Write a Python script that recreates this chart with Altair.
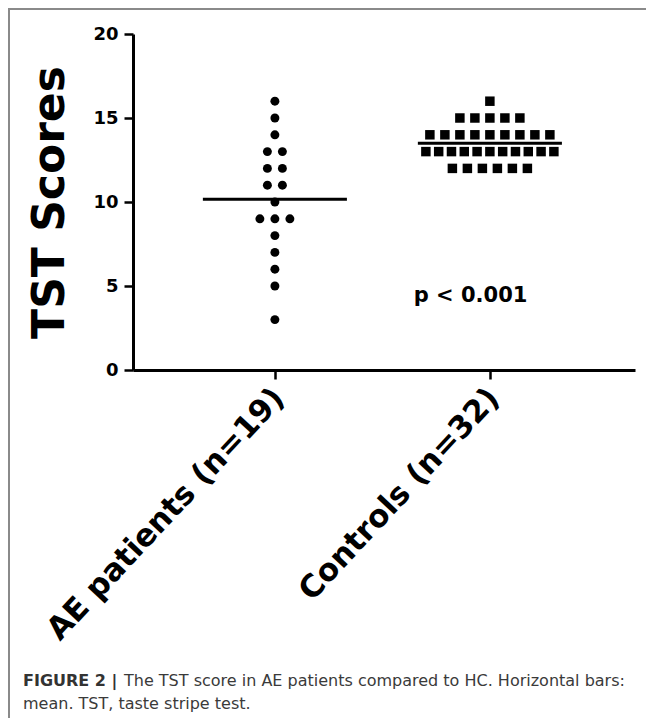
import altair as alt
import pandas as pd
from collections import Counter

# ---- data ----
groups = ["AE patients (n=19)", "Controls (n=32)"]
group_pos = [1, 2]
ae_scores = [16, 15, 14, 13, 13, 12, 12, 11, 11, 10, 9, 9, 9, 8, 7, 6, 5, 3]
control_scores = [16,
                  15, 15, 15, 15, 15,
                  14, 14, 14, 14, 14, 14, 14, 14, 14,
                  13, 13, 13, 13, 13, 13, 13, 13, 13, 13, 13,
                  12, 12, 12, 12, 12, 12]
y_ticks = [0, 5, 10, 15, 20]
p_label = ["p < 0.001"]
p_pos_x = [1.91]
p_pos_y = [4.4]
caption_bold = "FIGURE 2 |"
caption_line1 = "The TST score in AE patients compared to HC. Horizontal bars:"
caption_line2 = "mean. TST, taste stripe test."

# ---- layout helpers ----
W, H = 502, 336
X_DOMAIN = [0.34, 2.675]
PX_PER_UNIT = W / (X_DOMAIN[1] - X_DOMAIN[0])
FONT = "DejaVu Sans"
PAD = {"left": 125, "top": 26, "right": 11, "bottom": 348}
TOTAL_W = PAD["left"] + W + PAD["right"]
TOTAL_H = PAD["top"] + H + PAD["bottom"]


def swarm(scores, pos, group, spacing_px=15.0, max_width_px=128.0):
    counts = Counter(scores)
    seen = {}
    rows = []
    for s in scores:
        k = counts[s]
        i = seen.get(s, 0)
        seen[s] = i + 1
        sp = spacing_px if k < 2 else min(spacing_px, max_width_px / (k - 1))
        off = (i - (k - 1) / 2) * sp
        rows.append({"group": group, "gpos": pos, "score": s,
                     "xpos": pos + off / PX_PER_UNIT})
    return rows


df = pd.DataFrame(swarm(ae_scores, group_pos[0], groups[0]) +
                  swarm(control_scores, group_pos[1], groups[1]))

label_expr = (f"datum.value == {group_pos[0]} ? '{groups[0]}' : "
              f"(datum.value == {group_pos[1]} ? '{groups[1]}' : '')")

x_scale = alt.Scale(domain=X_DOMAIN, nice=False, zero=False)
y_scale = alt.Scale(domain=[0, 20], nice=False)

x_axis = alt.Axis(values=group_pos, labelExpr=label_expr, title=None, grid=False,
                  labelAngle=313, labelAlign="right", labelBaseline="middle",
                  labelFont=FONT, labelFontWeight="bold", labelFontSize=31,
                  labelColor="black", labelPadding=14, labelOffset=4,
                  labelLimit=0, labelOverlap=False,
                  tickSize=9, tickWidth=2.5, tickColor="black",
                  domainWidth=3, domainColor="black")
y_axis = alt.Axis(values=y_ticks, title="TST Scores", grid=False,
                  titleFont=FONT, titleFontWeight="bold", titleFontSize=44,
                  titleColor="black", titlePadding=20,
                  labelFont=FONT, labelFontWeight="bold", labelFontSize=18,
                  labelColor="black", labelPadding=6,
                  tickSize=9, tickWidth=2.5, tickColor="black",
                  domainWidth=3, domainColor="black")

base = alt.Chart(df)

ae_points = base.transform_filter(alt.datum.gpos == group_pos[0]).mark_circle(
    size=80, color="black", opacity=1).encode(
    x=alt.X("xpos:Q", scale=x_scale, axis=x_axis),
    y=alt.Y("score:Q", scale=y_scale, axis=y_axis),
)

ctrl_points = base.transform_filter(alt.datum.gpos == group_pos[1]).mark_square(
    size=90, color="black", opacity=1).encode(
    x=alt.X("xpos:Q", scale=x_scale, axis=x_axis),
    y=alt.Y("score:Q", scale=y_scale, axis=y_axis),
)

means = base.transform_aggregate(
    mean="mean(score)", groupby=["group", "gpos"]
).transform_calculate(
    x1="datum.gpos - 0.335", x2="datum.gpos + 0.335"
).mark_rule(color="black", strokeWidth=3).encode(
    x=alt.X("x1:Q", scale=x_scale, axis=x_axis),
    x2="x2:Q",
    y=alt.Y("mean:Q", scale=y_scale, axis=y_axis),
)

p_df = pd.DataFrame({"t": p_label, "x": p_pos_x, "y": p_pos_y})
p_text = alt.Chart(p_df).mark_text(
    font=FONT, fontWeight="bold", fontSize=21, color="black",
    align="center", baseline="middle").encode(
    x=alt.X("x:Q", scale=x_scale, axis=x_axis),
    y=alt.Y("y:Q", scale=y_scale, axis=y_axis),
    text="t:N",
)

cap_df = pd.DataFrame({"bold": [caption_bold], "l1": [caption_line1],
                       "l2": [caption_line2]})
cap_bold = alt.Chart(cap_df).mark_text(
    font=FONT, fontWeight="bold", fontSize=16, color="#333333",
    align="left", baseline="middle").encode(
    text="bold:N", x=alt.value(-110), y=alt.value(647))
cap_l1 = alt.Chart(cap_df).mark_text(
    font=FONT, fontSize=16, color="#3a3a3a",
    align="left", baseline="middle").encode(
    text="l1:N", x=alt.value(-9), y=alt.value(647))
cap_l2 = alt.Chart(cap_df).mark_text(
    font=FONT, fontSize=16, color="#3a3a3a",
    align="left", baseline="middle").encode(
    text="l2:N", x=alt.value(-110), y=alt.value(670))

frame_df = pd.DataFrame({"k": [0]})
frame_left = alt.Chart(frame_df).mark_rule(color="#8a8a8a", strokeWidth=2).encode(
    x=alt.value(-PAD["left"] + 1), y=alt.value(-PAD["top"] + 1),
    y2=alt.value(TOTAL_H - PAD["top"]))
frame_top = alt.Chart(frame_df).mark_rule(color="#8a8a8a", strokeWidth=2).encode(
    x=alt.value(-PAD["left"]), x2=alt.value(TOTAL_W - PAD["left"]),
    y=alt.value(-PAD["top"] + 1))

chart = alt.layer(
    means, ae_points, ctrl_points, p_text, cap_bold, cap_l1, cap_l2,
    frame_left, frame_top
).properties(
    width=W, height=H,
    autosize=alt.AutoSizeParams(type="none"),
    padding=PAD,
    background="white",
).configure_view(stroke=None)

chart.save("out.html", embed_options={"renderer": "svg", "actions": False})
